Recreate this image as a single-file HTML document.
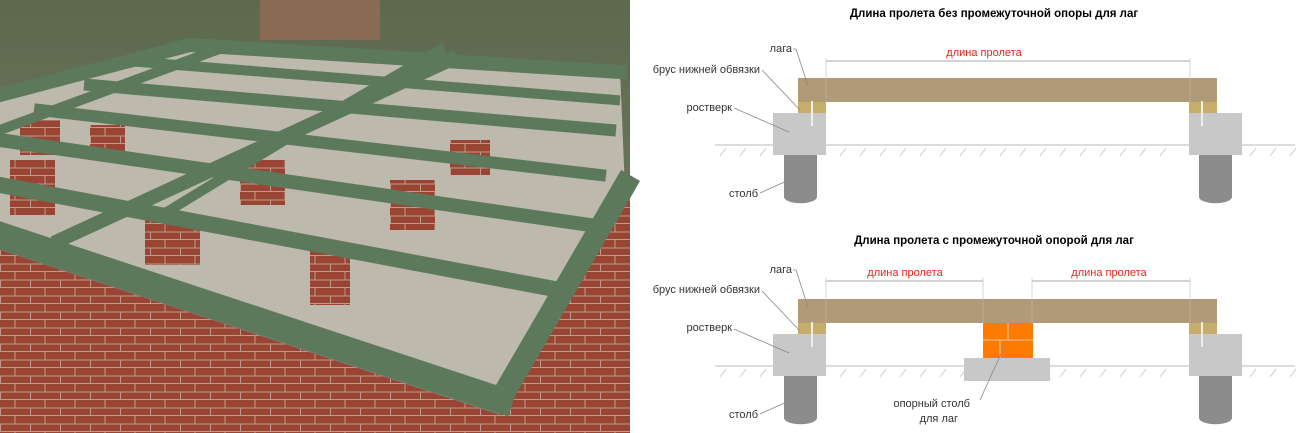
<!DOCTYPE html>
<html><head><meta charset="utf-8"><style>
html,body{margin:0;padding:0;background:#fff;width:1303px;height:433px;overflow:hidden}
svg{display:block}
text{font-family:"Liberation Sans",sans-serif}
</style></head><body>
<svg width="1303" height="433" viewBox="0 0 1303 433" xmlns="http://www.w3.org/2000/svg">
<defs>
<linearGradient id="bg" x1="0" y1="0" x2="0" y2="1"><stop offset="0" stop-color="#5d6a4e"/><stop offset="1" stop-color="#7c7f6a"/></linearGradient>
<pattern id="brick" width="30" height="16" patternUnits="userSpaceOnUse"><rect width="30" height="16" fill="#9a4534"/><path d="M0 15.5H30M15 0V8M0 8H30M0.5 8V16" stroke="#bf9a8a" stroke-width="1"/></pattern>
</defs>
<rect x="0" y="0" width="630" height="433" fill="url(#bg)"/>
<rect x="260" y="0" width="120" height="40" fill="#8a6a55"/>
<polygon points="0,95 190,42 620,70 625,190 500,405 0,240" fill="#bdb9ac"/>
<polygon points="0,250 500,415 500,433 0,433" fill="url(#brick)"/>
<polygon points="500,405 625,190 630,190 630,433 500,433" fill="url(#brick)"/>
<g fill="url(#brick)">
<rect x="10" y="160" width="45" height="55"/><rect x="145" y="215" width="55" height="50"/><rect x="310" y="250" width="40" height="55"/>
<rect x="390" y="180" width="45" height="50"/><rect x="240" y="160" width="45" height="45"/><rect x="450" y="140" width="40" height="35"/>
<rect x="20" y="120" width="40" height="35"/><rect x="90" y="125" width="35" height="35"/>
</g>
<g stroke="#5c7a5b" stroke-linecap="square" fill="none">
<path d="M0 235 L500 400" stroke-width="26"/>
<path d="M500 400 L625 185" stroke-width="22"/>
<path d="M0 95 L190 45 L620 72" stroke-width="14"/>
<path d="M0 185 L560 290" stroke-width="16"/>
<path d="M0 140 L590 225" stroke-width="14"/>
<path d="M40 110 L600 175" stroke-width="12"/>
<path d="M90 85 L610 130" stroke-width="12"/>
<path d="M140 62 L615 100" stroke-width="10"/>
<path d="M60 240 L450 60" stroke-width="14"/>
<path d="M230 45 L0 130" stroke-width="10"/>
<path d="M170 210 L285 140 L440 50" stroke-width="10"/>
</g>
<g font-size="11.5" fill="#000">
<text x="994" y="17" text-anchor="middle" font-weight="bold">Длина пролета без промежуточной опоры для лаг</text>
<text x="994" y="244" text-anchor="middle" font-weight="bold">Длина пролета с промежуточной опорой для лаг</text>
</g>
<g font-size="11" fill="#333">
<text x="792" y="52" text-anchor="end">лага</text>
<text x="760" y="73" text-anchor="end">брус нижней обвязки</text>
<text x="732" y="111" text-anchor="end">ростверк</text>
<text x="758" y="197" text-anchor="end">столб</text>
<text x="792" y="273" text-anchor="end">лага</text>
<text x="760" y="293" text-anchor="end">брус нижней обвязки</text>
<text x="732" y="331" text-anchor="end">ростверк</text>
<text x="758" y="418" text-anchor="end">столб</text>
<text x="970" y="407" text-anchor="end">опорный столб</text>
<text x="958" y="422" text-anchor="end">для лаг</text>
</g>
<g font-size="11" fill="#e8231a" text-anchor="middle">
<text x="984" y="56">длина пролета</text>
<text x="905" y="276">длина пролета</text>
<text x="1109" y="276">длина пролета</text>
</g>
<g id="d">
<line x1="715" y1="145" x2="1295" y2="145" stroke="#bbb"/>
<path d="M720 156l6 -8M740 156l6 -8M760 156l6 -8M840 156l6 -8M860 156l6 -8M880 156l6 -8M900 156l6 -8M920 156l6 -8M940 156l6 -8M960 156l6 -8M980 156l6 -8M1000 156l6 -8M1020 156l6 -8M1040 156l6 -8M1060 156l6 -8M1080 156l6 -8M1100 156l6 -8M1120 156l6 -8M1140 156l6 -8M1160 156l6 -8M1250 156l6 -8M1270 156l6 -8M1290 156l6 -8" stroke="#ccc"/>
<rect x="798" y="78" width="419" height="24" fill="#b09a78"/>
<rect x="798" y="102" width="28" height="11" fill="#c6ad6a"/>
<rect x="1189" y="102" width="28" height="11" fill="#c6ad6a"/>
<rect x="773" y="113" width="53" height="42" fill="#c8c8c8"/>
<rect x="1189" y="113" width="53" height="42" fill="#c8c8c8"/>
<path d="M784 155h33v42a16 6 0 0 1 -33 0z" fill="#8c8c8c"/>
<path d="M1199 155h33v42a16 6 0 0 1 -33 0z" fill="#8c8c8c"/>
<line x1="812" y1="101" x2="812" y2="126" stroke="#eee" stroke-width="2"/>
<line x1="1202" y1="101" x2="1202" y2="126" stroke="#eee" stroke-width="2"/>
<g stroke="#888" fill="none" stroke-width="0.8">
<path d="M793 49h3l12 37"/><path d="M762 70l38 40"/><path d="M734 108l55 24"/><path d="M760 193l38 -17"/>
</g>
</g>
<line x1="826" y1="61" x2="1190" y2="61" stroke="#aaa"/>
<path d="M826 58v45M1190 58v45" stroke="#bbb" stroke-width="0.6"/>
<use href="#d" transform="translate(0,221)"/>
<rect x="964" y="358" width="86" height="23" fill="#c8c8c8"/>
<rect x="983" y="323" width="50" height="35" fill="#ff7b00"/>
<path d="M983 340h50M1008 323v17M1000 340v18" stroke="#f3c9a0" stroke-width="1"/>
<line x1="826" y1="281" x2="983" y2="281" stroke="#aaa"/>
<line x1="1032" y1="281" x2="1190" y2="281" stroke="#aaa"/>
<path d="M826 278v45M983 278v45M1032 278v45M1190 278v45" stroke="#bbb" stroke-width="0.6"/>
<path d="M1005 345l-25 55" stroke="#888" stroke-width="0.8"/>
</svg>
</body></html>
